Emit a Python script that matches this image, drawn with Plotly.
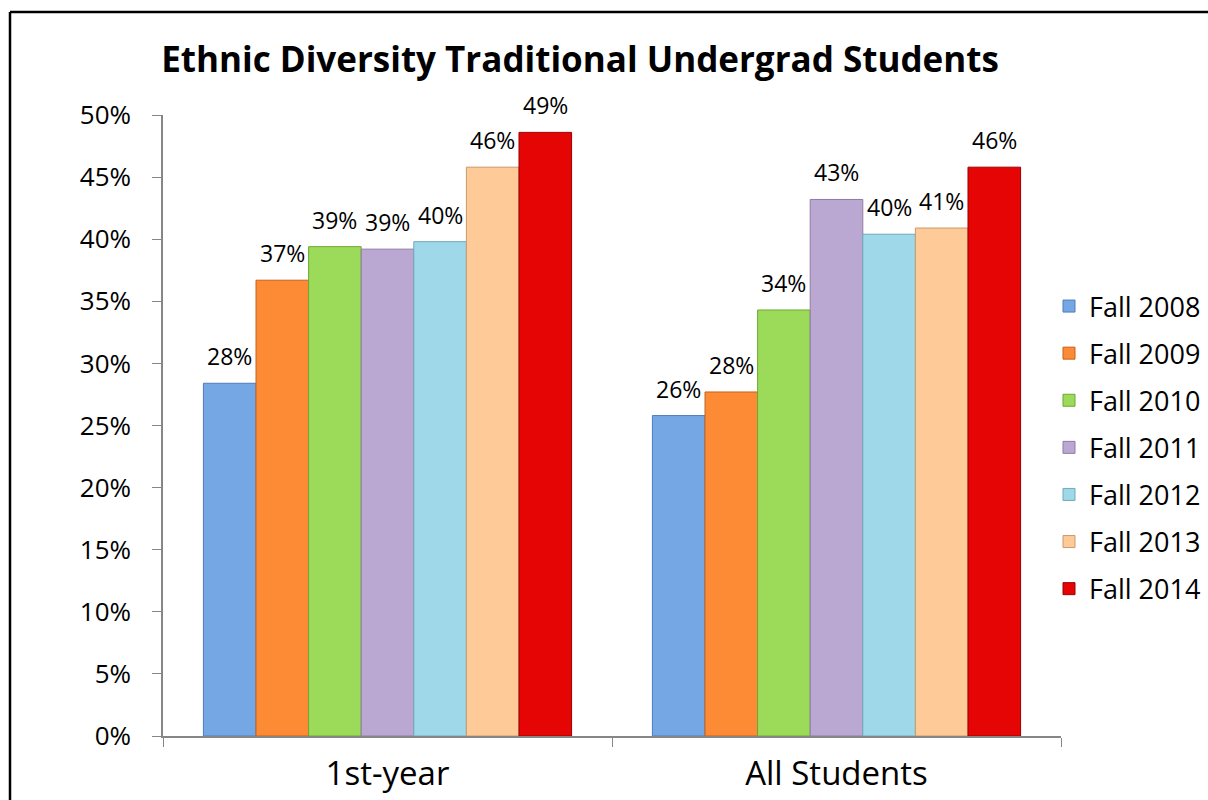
import plotly.graph_objects as go

categories = ["1st-year", "All Students"]
series_names = ["Fall 2008", "Fall 2009", "Fall 2010", "Fall 2011", "Fall 2012", "Fall 2013", "Fall 2014"]
fall_2008 = [0.284, 0.258]
fall_2009 = [0.367, 0.277]
fall_2010 = [0.394, 0.343]
fall_2011 = [0.392, 0.432]
fall_2012 = [0.398, 0.404]
fall_2013 = [0.458, 0.409]
fall_2014 = [0.486, 0.458]
series_values = [fall_2008, fall_2009, fall_2010, fall_2011, fall_2012, fall_2013, fall_2014]
tick_vals = [0, 0.05, 0.10, 0.15, 0.20, 0.25, 0.30, 0.35, 0.40, 0.45, 0.50]
tick_text = ["0%", "5%", "10%", "15%", "20%", "25%", "30%", "35%", "40%", "45%", "50%"]

colors = ["#76A7E5", "#FD8A35", "#9CDB59", "#BBA8D2", "#9ED8E9", "#FDCA98", "#E50505"]
edges = ["#4F7DB8", "#C4631C", "#6FA634", "#8E7BA6", "#6FAABB", "#C99A6C", "#9A0000"]

FONT = "Open Sans, sans-serif"

W, H = 1208, 800
L, R, T, B = 163, 147, 115, 64

fig = go.Figure()
for name, vals, c, e in zip(series_names, series_values, colors, edges):
    fig.add_trace(go.Bar(
        name=name, x=categories, y=vals, legendgroup=name,
        marker=dict(color=c, line=dict(color=e, width=1)),
        hoverinfo="x+y+name",
    ))

plot_w = W - L - R
plot_h = H - T - B
cat_w = plot_w / len(categories)
bargap = 0.18
bar_w = cat_w * (1 - bargap) / len(series_names)
annotations = []
for i, vals in enumerate(series_values):
    for cat, v in zip(categories, vals):
        annotations.append(dict(
            x=cat, y=v, xref="x", yref="y",
            text=f"{round(v*100):.0f}%", showarrow=False,
            xshift=(i - 3) * bar_w, yshift=27, yanchor="middle",
            font=dict(family=FONT, size=23, color="#000000"),
        ))

plot_bottom = H - B
border_x = (10 - L) / plot_w
border_y = (plot_bottom - 12) / plot_h
fig.update_layout(
    width=W, height=H,
    margin=dict(l=L, r=R, t=T, b=B, autoexpand=False),
    paper_bgcolor="white", plot_bgcolor="white",
    barmode="group", bargap=bargap, bargroupgap=0,
    title=dict(text="<b>Ethnic Diversity Traditional Undergrad Students</b>",
               x=580/W, xanchor="center", y=1-60/H, yanchor="middle",
               font=dict(family=FONT, size=35, color="#000000")),
    font=dict(family=FONT, color="#000000"),
    legend=dict(x=(1049 - L) / plot_w, xanchor="left",
                y=(plot_bottom - 447.5) / plot_h, yanchor="middle",
                font=dict(family=FONT, size=27), tracegroupgap=9,
                bgcolor="rgba(0,0,0,0)"),
    xaxis=dict(type="category", showline=True, linecolor="#868686", linewidth=1.5,
               ticks="outside", tickson="boundaries", ticklen=9, tickcolor="#868686",
               tickfont=dict(family=FONT, size=33), showgrid=False, zeroline=False,
               ticklabelstandoff=8, automargin=False),
    yaxis=dict(range=[0, 0.5], tickvals=tick_vals, ticktext=tick_text,
               showline=True, linecolor="#868686", linewidth=1.5,
               ticks="outside", ticklen=9, tickcolor="#868686",
               tickfont=dict(family=FONT, size=26), showgrid=False, zeroline=False,
               ticklabelstandoff=16, automargin=False),
    annotations=annotations,
    shapes=[
        dict(type="line", xref="paper", yref="paper",
             x0=border_x, x1=border_x, y0=-1.0, y1=border_y,
             line=dict(color="#000000", width=2.5), layer="below"),
        dict(type="line", xref="paper", yref="paper",
             x0=border_x, x1=2.0, y0=border_y, y1=border_y,
             line=dict(color="#000000", width=2.5), layer="below"),
    ],
)

fig.write_html(
    "out.html",
    config={"displayModeBar": False},
    post_script="document.body.style.margin='0';document.body.style.overflow='hidden';",
)
